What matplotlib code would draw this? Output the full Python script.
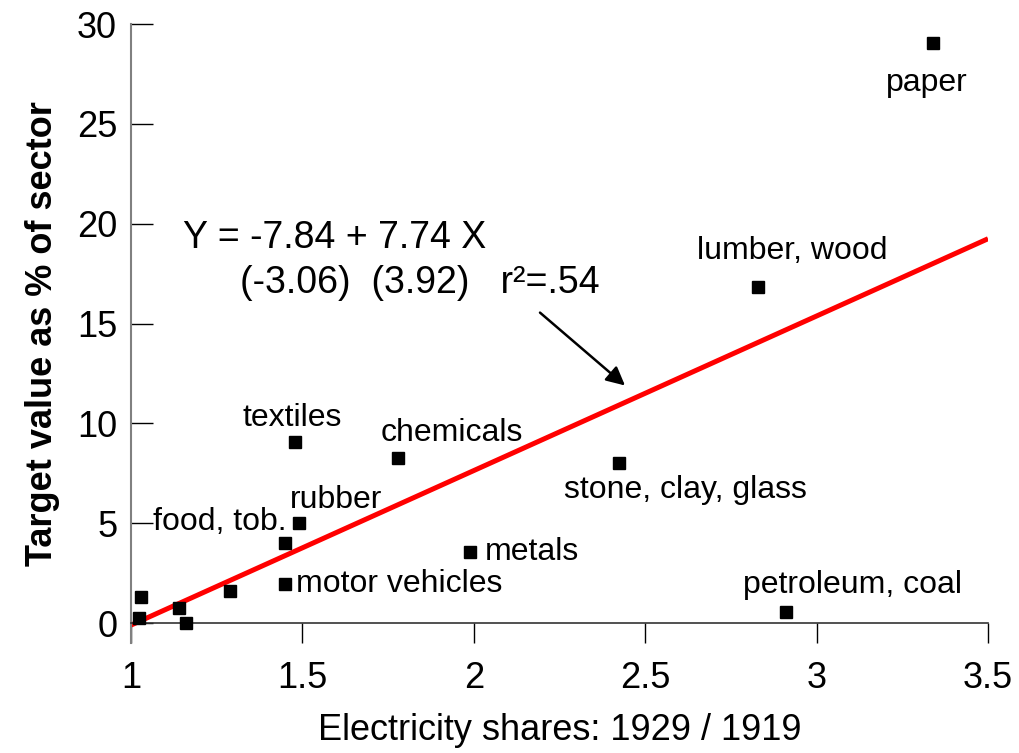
import matplotlib
matplotlib.use('Agg')
import matplotlib.pyplot as plt
import numpy as np

plt.rcParams['font.family'] = ['Liberation Sans', 'DejaVu Sans']

# electricity share ratio 1929/1919 and target value (% of sector)
sectors = ['paper', 'lumber, wood', 'textiles', 'chemicals', 'stone, clay, glass',
           'rubber', 'food, tob.', 'metals', 'motor vehicles', 'petroleum, coal',
           '', '', '', '', '']
elec_ratio = [3.34, 2.83, 1.478, 1.779, 2.424, 1.49, 1.449, 1.989, 1.449, 2.911,
              1.029, 1.023, 1.14, 1.16, 1.289]
target_pct = [29.05, 16.85, 9.05, 8.25, 8.0, 5.0, 4.0, 3.55, 1.95, 0.55,
              1.3, 0.25, 0.75, 0.0, 1.6]

# regression Y = a + b X
intercept = -7.84
slope = 7.74
fit_range = [1.0, 3.5]

# label placement: (x, y, ha)
label_pos = {
    'paper': (3.322, 27.05, 'center'),
    'lumber, wood': (2.928, 18.65, 'center'),
    'textiles': (1.470, 10.25, 'center'),
    'chemicals': (1.936, 9.5, 'center'),
    'stone, clay, glass': (2.616, 6.65, 'center'),
    'rubber': (1.598, 6.15, 'center'),
    'food, tob.': (1.260, 5.05, 'center'),
    'metals': (2.033, 3.55, 'left'),
    'motor vehicles': (1.481, 1.95, 'left'),
    'petroleum, coal': (3.106, 1.9, 'center'),
}

fig = plt.figure(figsize=(10.19, 7.53), dpi=100)
ax = fig.add_axes([0.1286, 0.146, 0.841, 0.822])

fx = np.array(fit_range)
ax.plot(fx, intercept + slope * fx, color='#ff0000', lw=3.6, solid_capstyle='butt', zorder=2)
ax.plot(elec_ratio, target_pct, 's', color='black', ms=9, zorder=3)

for name, (tx, ty, ha) in label_pos.items():
    ax.text(tx, ty, name, fontsize=23, ha=ha, va='center')

ax.text(1.152, 19.3, 'Y = -7.84 + 7.74 X', fontsize=27, ha='left', va='center')
ax.text(1.318, 17.05, '(-3.06)  (3.92)   r²=.54', fontsize=27, ha='left', va='center')
ax.annotate('', xy=(2.441, 11.9), xytext=(2.193, 15.55),
            arrowprops=dict(arrowstyle='-|>', color='black', lw=1.8,
                            mutation_scale=28, shrinkA=0, shrinkB=0))

ax.set_xlim(1, 3.5)
ax.set_ylim(-1, 30)
ax.set_xticks([1, 1.5, 2, 2.5, 3, 3.5])
ax.set_xticklabels(['1', '1.5', '2', '2.5', '3', '3.5'])
ax.set_yticks([0, 5, 10, 15, 20, 25, 30])

ax.spines['top'].set_visible(False)
ax.spines['right'].set_visible(False)
ax.spines['bottom'].set_position(('data', 0))
ax.spines['bottom'].set_color('#333333')
ax.spines['bottom'].set_linewidth(1.2)
ax.spines['left'].set_color('#808080')
ax.spines['left'].set_linewidth(1.5)

ax.tick_params(axis='x', direction='out', length=14.5, width=1.0, color='black',
               labelsize=26, pad=13)
ax.tick_params(axis='y', direction='in', length=16, width=1.0, color='black',
               labelsize=26, pad=10)

ax.set_xlabel('Electricity shares: 1929 / 1919', fontsize=26, labelpad=12)
ax.set_ylabel('Target value as % of sector', fontsize=26, fontweight='bold', labelpad=12)

fig.savefig('out.png', dpi=100)
